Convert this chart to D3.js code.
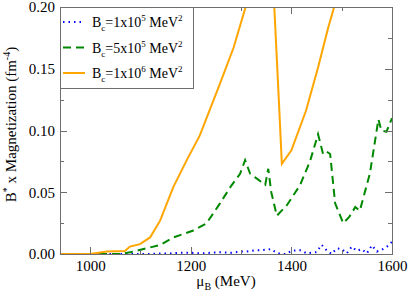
<!DOCTYPE html>
<meta charset="utf-8">
<style>
body { margin: 0; background: #fff; }
.axis path, .axis line { stroke: #6e6e6e; fill: none; shape-rendering: crispEdges; }
.curve { fill: none; stroke-width: 2; }
</style>
<body>
<div id="chart"></div>
<script src="https://d3js.org/d3.v7.min.js"></script>
<script>
// series (mu_B in MeV, value in fm^-4)
var muLow = [940, 1000, 1040, 1060, 1080, 1100, 1120, 1140, 1160, 1180, 1200, 1220, 1240, 1260, 1280, 1300,
             1310, 1320, 1330, 1340, 1350, 1360, 1370, 1380, 1390, 1400, 1410, 1420, 1430, 1440, 1450, 1460,
             1470, 1480, 1490, 1500, 1510, 1520, 1530, 1540, 1550, 1560, 1570, 1580, 1590, 1600];
var lowVals = [0, 0, 0, 0, 0, 0, 0, 0.0005, 0.0005, 0.001, 0.001, 0.0005, 0.001, 0.0015, 0.001, 0.002,
               0.002, 0.0025, 0.003, 0.003, 0.0035, 0.004, 0.001, 0, 0, 0.0025, 0.003, 0.003, 0.0005, 0.001, 0.0015, 0.0075,
               0.003, 0, 0.0045, 0.004, 0.0005, 0.006, 0.0025, 0.004, 0.0005, 0.007, 0.002, 0.0035, 0.006, 0.01];

var muMid = [940, 1000, 1060, 1086, 1112, 1139, 1165, 1205, 1231, 1258, 1280, 1298, 1308, 1318, 1328, 1348,
             1354, 1360, 1371, 1391, 1417, 1437, 1453, 1463, 1470, 1477, 1487, 1503, 1515, 1527, 1536, 1556,
             1573, 1579, 1589, 1600];
var midVals = [0, 0, 0, 0.002, 0.0046, 0.0073, 0.0134, 0.019, 0.0247, 0.041, 0.055, 0.065, 0.076, 0.065, 0.062, 0.056,
               0.069, 0.05, 0.031, 0.0395, 0.0556, 0.075, 0.097, 0.081, 0.083, 0.081, 0.041, 0.025, 0.03, 0.038, 0.035, 0.065,
               0.109, 0.1, 0.099, 0.11];

var muHigh = [940, 1000, 1033, 1069, 1079, 1099, 1119, 1139, 1165, 1192, 1218, 1258, 1285, 1309, 1330, 1350,
              1363, 1366, 1375, 1381, 1400, 1429, 1453, 1473, 1485, 1520, 1600];
var highVals = [0, 0, 0.002, 0.0024, 0.006, 0.008, 0.0134, 0.027, 0.054, 0.076, 0.096, 0.138, 0.167, 0.2, 0.26, 0.33,
                0.38, 0.2, 0.125, 0.073, 0.084, 0.116, 0.151, 0.183, 0.2, 0.26, 0.4];

var seriesNames = ["1x10", "5x10", "1x10"];
var seriesPowers = ["5", "5", "6"];
var seriesColors = ["#0000ff", "#008800", "#ffa500"];
var seriesDash = ["1.5,4", "8,5", null];

var xTicks = [1000, 1200, 1400, 1600];
var xMinor = [1100, 1300, 1500];
var yTicks = [0, 0.05, 0.10, 0.15, 0.20];
var yMinor = [0.025, 0.075, 0.125, 0.175];

var FONT = "'Liberation Serif', 'Times New Roman', 'DejaVu Serif', serif";

var W = 409, H = 293;
var margin = {top: 7, right: 17, bottom: 39, left: 60},
    width = W - margin.left - margin.right,
    height = H - margin.top - margin.bottom;

var x = d3.scaleLinear().domain([940, 1600]).range([0, width]);
var y = d3.scaleLinear().domain([0, 0.2]).range([height, 0]);

var svg = d3.select("#chart").append("svg")
    .attr("width", W).attr("height", H)
  .append("g")
    .attr("transform", "translate(" + margin.left + "," + margin.top + ")");

svg.append("clipPath").attr("id", "clip")
  .append("rect").attr("width", width).attr("height", height);

var line = d3.line()
    .x(function(d) { return x(d[0]); })
    .y(function(d) { return y(d[1]); });

var data = [d3.zip(muLow, lowVals), d3.zip(muMid, midVals), d3.zip(muHigh, highVals)];

svg.selectAll(".curve")
    .data(data)
  .enter().append("path")
    .attr("class", "curve")
    .attr("clip-path", "url(#clip)")
    .attr("d", line)
    .style("stroke", function(d, i) { return seriesColors[i]; })
    .style("stroke-dasharray", function(d, i) { return seriesDash[i]; });

// axes, ticks pointing inward and mirrored on top/right
svg.append("g").attr("class", "axis")
    .attr("transform", "translate(0," + height + ")")
    .call(d3.axisBottom(x).tickValues(xTicks).tickSize(-7).tickPadding(6).tickFormat(d3.format("d")).tickSizeOuter(0));
svg.append("g").attr("class", "axis")
    .attr("transform", "translate(0," + height + ")")
    .call(d3.axisBottom(x).tickValues(xMinor).tickSize(-4).tickFormat("").tickSizeOuter(0));
svg.append("g").attr("class", "axis")
    .call(d3.axisTop(x).tickValues(xTicks).tickSize(-7).tickFormat("").tickSizeOuter(0));
svg.append("g").attr("class", "axis")
    .call(d3.axisTop(x).tickValues(xMinor).tickSize(-4).tickFormat("").tickSizeOuter(0));

svg.append("g").attr("class", "axis")
    .call(d3.axisLeft(y).tickValues(yTicks).tickSize(-7).tickPadding(5).tickFormat(d3.format(".2f")).tickSizeOuter(0));
svg.append("g").attr("class", "axis")
    .call(d3.axisLeft(y).tickValues(yMinor).tickSize(-4).tickFormat("").tickSizeOuter(0));
svg.append("g").attr("class", "axis")
    .attr("transform", "translate(" + width + ",0)")
    .call(d3.axisRight(y).tickValues(yTicks).tickSize(-7).tickFormat("").tickSizeOuter(0));
svg.append("g").attr("class", "axis")
    .attr("transform", "translate(" + width + ",0)")
    .call(d3.axisRight(y).tickValues(yMinor).tickSize(-4).tickFormat("").tickSizeOuter(0));

svg.selectAll(".axis").attr("font-family", FONT).attr("font-size", 15);
svg.selectAll(".axis text").attr("fill", "#000");

// legend box
var legend = svg.append("g").attr("font-family", FONT);
legend.append("rect")
    .attr("x", 0).attr("y", 0).attr("width", 133).attr("height", 81)
    .style("fill", "#fff").style("stroke", "#6e6e6e").style("stroke-width", 1)
    .style("shape-rendering", "crispEdges");

seriesNames.forEach(function(name, i) {
  var ly = 15 + i * 25.5;
  legend.append("line")
      .attr("x1", 3).attr("x2", 25).attr("y1", ly).attr("y2", ly)
      .style("stroke", seriesColors[i]).style("stroke-width", 2)
      .style("stroke-dasharray", seriesDash[i]);
  var t = legend.append("text")
      .attr("x", 32).attr("y", ly + 5)
      .attr("font-size", 14);
  t.append("tspan").text("B");
  t.append("tspan").attr("dy", 4).attr("font-size", 9).text("c");
  t.append("tspan").attr("dy", -4).text("=" + name);
  t.append("tspan").attr("dy", -6).attr("font-size", 9).text(seriesPowers[i]);
  t.append("tspan").attr("dy", 6).text(" MeV");
  t.append("tspan").attr("dy", -6).attr("font-size", 9).text("2");
});

// axis titles
var xt = svg.append("text")
    .attr("x", width / 2).attr("y", height + 32)
    .attr("text-anchor", "middle")
    .attr("font-family", FONT).attr("font-size", 15);
xt.append("tspan").text("\u03bc");
xt.append("tspan").attr("dy", 4).attr("font-size", 10).text("B");
xt.append("tspan").attr("dy", -4).text(" (MeV)");

var yt = svg.append("text")
    .attr("transform", "translate(" + (-44) + "," + (height / 2 - 6) + ") rotate(-90)")
    .attr("text-anchor", "middle")
    .attr("font-family", FONT).attr("font-size", 15);
yt.append("tspan").text("B");
yt.append("tspan").attr("dy", -6).attr("font-size", 10).text("*");
yt.append("tspan").attr("dy", 6).text(" x Magnetization (fm");
yt.append("tspan").attr("dy", -6).attr("font-size", 10).text("-4");
yt.append("tspan").attr("dy", 6).text(")");
</script>
</body>
